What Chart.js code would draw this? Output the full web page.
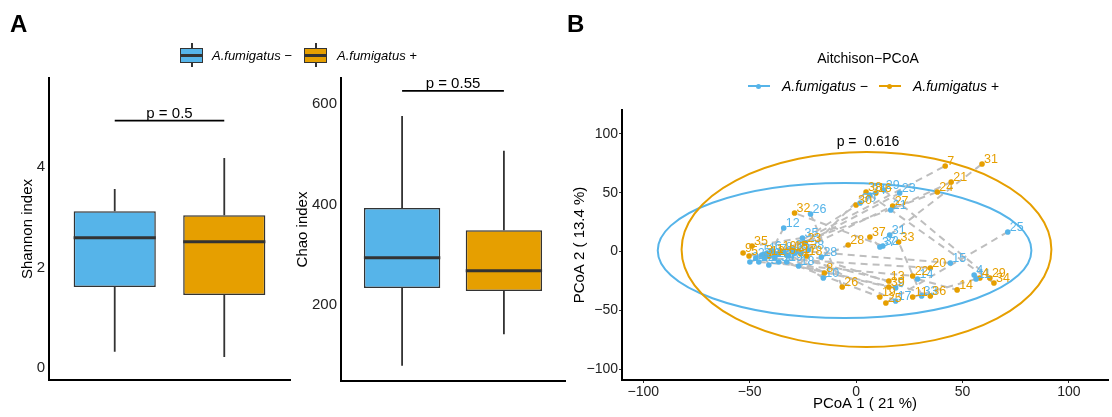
<!DOCTYPE html>
<html>
<head>
<meta charset="utf-8">
<script src="https://cdn.jsdelivr.net/npm/chart.js@4.4.0/dist/chart.umd.min.js"></script>
<style>
  body { margin: 0; background: #fff; font-family: 'Liberation Sans', Arial, sans-serif; }
  #wrap { position: relative; width: 1112px; height: 417px; overflow: hidden; }
  canvas { position: absolute; top: 0; }
  .txt { position: absolute; white-space: nowrap; color: #000; line-height: 1; transform: translateY(-50%); }
  .tag { font-size: 24px; font-weight: bold; }
  .key { font-style: italic; }
  .whisk { position: absolute; width: 1.5px; height: 24px; background: #333; }
  .box { position: absolute; width: 23px; height: 15px; box-sizing: border-box; border: 1.5px solid #333; }
  .box::before { content: ''; position: absolute; left: 0; right: 0; top: 50%; height: 2.5px; margin-top: -1.25px; background: #333; }
  .seg { position: absolute; width: 22px; height: 2px; }
  .dot { position: absolute; width: 5px; height: 5px; border-radius: 50%; }
</style>
</head>
<body>
<div id="wrap">
  <canvas id="shannon" width="300" height="417" style="left:0"></canvas>
  <canvas id="chao" width="280" height="417" style="left:290px"></canvas>
  <canvas id="pcoa" width="542" height="417" style="left:570px"></canvas>

  <div class="txt tag" style="left:10px; top:24px">A</div>
  <div class="txt tag" style="left:567px; top:24px">B</div>

  <!-- legend for the alpha diversity boxes -->
  <div class="whisk" style="left:191px; top:43px"></div>
  <div class="box" style="left:180px; top:48px; background:#56B4E9"></div>
  <div class="txt key" style="left:212px; top:55px; font-size:13px">A.fumigatus &#8722;</div>
  <div class="whisk" style="left:315px; top:43px"></div>
  <div class="box" style="left:304px; top:48px; background:#E69F00"></div>
  <div class="txt key" style="left:337px; top:55px; font-size:13px">A.fumigatus +</div>

  <!-- PCoA title and legend -->
  <div class="txt" style="left:868px; top:58px; font-size:14px; transform:translate(-50%,-50%)">Aitchison&#8722;PCoA</div>
  <div class="seg" style="left:748px; top:85px; background:#56B4E9"></div>
  <div class="dot" style="left:756px; top:83.5px; background:#56B4E9"></div>
  <div class="txt key" style="left:782px; top:86px; font-size:14px">A.fumigatus &#8722;</div>
  <div class="seg" style="left:879px; top:85px; background:#E69F00"></div>
  <div class="dot" style="left:887px; top:83.5px; background:#E69F00"></div>
  <div class="txt key" style="left:913px; top:86px; font-size:14px">A.fumigatus +</div>
</div>

<script>
Chart.defaults.font.family = "'Liberation Sans', Arial, sans-serif";
Chart.defaults.color = '#222';

const groups = ['A.fumigatus \u2212', 'A.fumigatus +'];
const groupColors = ['#56B4E9', '#E69F00'];
const groupPos = [1, 2];

// Shannon index boxes
const shannonMin = [0.32, 0.22];
const shannonQ1 = [1.61, 1.45];
const shannonMedian = [2.59, 2.51];
const shannonQ3 = [3.12, 3.04];
const shannonMax = [3.56, 4.18];
const shannonTicks = [0, 2, 4];
const shannonP = 'p = 0.5';
const shannonPLevel = 4.92;

// Chao index boxes
const chaoMin = [79, 142];
const chaoQ1 = [234, 228];
const chaoMedian = [294, 268];
const chaoQ3 = [393, 349];
const chaoMax = [576, 507];
const chaoTicks = [200, 400, 600];
const chaoP = 'p = 0.55';
const chaoPLevel = 626;

// PCoA coordinates, one entry per sample id, for both groups
const sampleIds = [1, 2, 3, 4, 5, 6, 7, 8, 9, 10, 11, 12, 13, 14, 15, 16, 17, 18, 19, 20,
  21, 22, 23, 24, 25, 26, 27, 28, 29, 30, 31, 32, 33, 34, 35, 36, 37, 38, 39];
const minusX = [-41.9, -47.1, -41.0, 55.5, -44.3, -39.1, -36.8, -34.0, 18.6, -15.4, 56.4, -34.0, -31.7, 28.9, 44.3, -38.2, 18.6, -27.0, -32.6, -42.9,
  16.3, -45.7, 20.5, -49.9, 71.3, -21.4, -29.0, -16.3, 13.0, 1.9, 15.8, 12.6, 30.8, 6.5, -25.2, -29.4, 11.2, -22.4, -36.3];
const minusY = [-1.3, -5.5, -11.5, -20.0, -3.0, 0.4, -2.1, -0.4, -31.0, -22.5, -23.4, 20.0, -3.8, -23.4, -9.8, -5.5, -42.1, -12.3, -8.9, -5.5,
  35.3, -8.9, 49.7, -8.9, 16.6, 31.9, -1.5, -4.7, 52.3, 41.2, 14.0, 4.7, -37.8, 48.0, 11.5, 1.3, 3.8, 1.3, -8.9];
const plusX = [-38.2, -28.4, -43.3, 58.2, -50.3, -32.6, 41.9, -14.9, -53.1, -35.5, 26.6, -41.0, 15.4, 47.5, -30.0, 9.3, -26.0, -23.3, 11.2, 34.9,
  44.7, 26.6, -23.8, 38.2, 14.0, -6.5, 17.2, -3.7, 62.9, 0.0, 59.2, -28.9, 20.0, 64.8, -48.9, 34.9, 6.5, 4.7, 15.4];
const plusY = [-2.1, -0.4, -3.0, -22.5, -3.8, -3.0, 72.7, -18.3, -1.3, 0.5, -38.7, -3.8, -25.1, -32.7, 1.0, 49.7, -2.0, -3.8, -38.7, -14.0,
  59.1, -20.8, 7.2, 50.6, -43.8, -30.2, 38.7, 5.5, -22.5, 39.5, 74.4, 32.7, 8.1, -26.8, 4.7, -37.8, 12.3, 50.6, -30.2];

// 95% ellipses: centre and half axes per group
const ellipseCx = [-5.4, 4.9];
const ellipseCy = [0.85, 1.7];
const ellipseRx = [87.8, 86.9];
const ellipseRy = [57.4, 82.9];
const pcoaP = 'p =  0.616';
const pcoaPAt = [5.6, 93.2];
const pcoaTicks = [-100, -50, 0, 50, 100];

const minus = v => (v < 0 ? '\u2212' + Math.abs(v) : String(v));

function boxPlot(canvasId, s) {
  const parts = {
    id: 'boxParts',
    beforeDatasetsDraw(chart) {
      const {ctx, scales: {y}} = chart;
      const meta = chart.getDatasetMeta(0);
      ctx.save();
      ctx.strokeStyle = '#333';
      ctx.lineWidth = 1.8;
      meta.data.forEach((bar, i) => {
        ctx.beginPath();
        ctx.moveTo(bar.x, y.getPixelForValue(s.max[i]));
        ctx.lineTo(bar.x, y.getPixelForValue(s.q3[i]));
        ctx.moveTo(bar.x, y.getPixelForValue(s.q1[i]));
        ctx.lineTo(bar.x, y.getPixelForValue(s.min[i]));
        ctx.stroke();
      });
      ctx.restore();
    },
    afterDatasetsDraw(chart) {
      const {ctx, scales: {x, y}} = chart;
      const meta = chart.getDatasetMeta(0);
      ctx.save();
      ctx.strokeStyle = '#333';
      ctx.lineWidth = 3;
      meta.data.forEach((bar, i) => {
        const my = y.getPixelForValue(s.median[i]);
        ctx.beginPath();
        ctx.moveTo(bar.x - bar.width / 2, my);
        ctx.lineTo(bar.x + bar.width / 2, my);
        ctx.stroke();
      });
      // significance bracket
      const py = y.getPixelForValue(s.pLevel);
      const x1 = x.getPixelForValue(groupPos[0]);
      const x2 = x.getPixelForValue(groupPos[1]);
      ctx.strokeStyle = '#000';
      ctx.lineWidth = 1.8;
      ctx.beginPath();
      ctx.moveTo(x1, py);
      ctx.lineTo(x2, py);
      ctx.stroke();
      ctx.fillStyle = '#000';
      ctx.font = "15px 'Liberation Sans', Arial, sans-serif";
      ctx.textAlign = 'center';
      ctx.textBaseline = 'alphabetic';
      ctx.fillText(s.pText, (x1 + x2) / 2, py - 3);
      ctx.restore();
    }
  };

  return new Chart(document.getElementById(canvasId), {
    type: 'bar',
    data: {
      datasets: [{
        data: groupPos.map((p, i) => ({x: p, y: [s.q1[i], s.q3[i]]})),
        backgroundColor: groupColors,
        borderColor: '#333',
        borderWidth: 1.5,
        borderSkipped: false,
        categoryPercentage: 1,
        barPercentage: 0.75
      }]
    },
    options: {
      responsive: false,
      animation: false,
      layout: {padding: s.padding},
      plugins: {legend: {display: false}, tooltip: {enabled: false}},
      scales: {
        x: {
          type: 'linear', min: 0.4, max: 2.6, offset: false,
          afterBuildTicks: sc => { sc.ticks = groupPos.map(v => ({value: v})); },
          afterFit: sc => { sc.height = 0; },
          ticks: {display: false},
          grid: {display: false},
          border: {display: true, color: '#000', width: 2}
        },
        y: {
          min: s.yMin, max: s.yMax,
          afterBuildTicks: sc => { sc.ticks = s.ticks.map(v => ({value: v})); },
          afterFit: sc => { sc.width = s.axisWidth; },
          ticks: {padding: 4, font: {size: 15}, color: '#222'},
          grid: {display: false, drawTicks: false},
          border: {display: true, color: '#000', width: 2},
          title: {display: true, text: s.title, color: '#000', font: {size: 15}, padding: {top: s.titlePad, bottom: 0}}
        }
      }
    },
    plugins: [parts]
  });
}

boxPlot('shannon', {
  min: shannonMin, q1: shannonQ1, median: shannonMedian, q3: shannonQ3, max: shannonMax,
  ticks: shannonTicks, yMin: -0.24, yMax: 5.77, title: 'Shannon index',
  pText: shannonP, pLevel: shannonPLevel,
  padding: {left: 0, right: 10, top: 78, bottom: 37}, axisWidth: 49, titlePad: 19
});

boxPlot('chao', {
  min: chaoMin, q1: chaoQ1, median: chaoMedian, q3: chaoQ3, max: chaoMax,
  ticks: chaoTicks, yMin: 48.8, yMax: 651.7, title: 'Chao index',
  pText: chaoP, pLevel: chaoPLevel,
  padding: {left: 0, right: 5, top: 78, bottom: 36}, axisWidth: 51, titlePad: 4
});

// ellipses, paired dashed links and sample labels
const pcoaExtras = {
  id: 'pcoaExtras',
  beforeDatasetsDraw(chart) {
    const {ctx, chartArea, scales: {x, y}} = chart;
    ctx.save();
    ctx.beginPath();
    ctx.rect(chartArea.left, chartArea.top, chartArea.width, chartArea.height);
    ctx.clip();
    ctx.lineWidth = 2;
    groupColors.forEach((c, g) => {
      const cx = x.getPixelForValue(ellipseCx[g]);
      const cy = y.getPixelForValue(ellipseCy[g]);
      const rx = Math.abs(x.getPixelForValue(ellipseCx[g] + ellipseRx[g]) - cx);
      const ry = Math.abs(y.getPixelForValue(ellipseCy[g] + ellipseRy[g]) - cy);
      ctx.strokeStyle = c;
      ctx.beginPath();
      ctx.ellipse(cx, cy, rx, ry, 0, 0, Math.PI * 2);
      ctx.stroke();
    });
    ctx.strokeStyle = '#bebebe';
    ctx.lineWidth = 2;
    ctx.setLineDash([7, 5]);
    sampleIds.forEach((id, i) => {
      ctx.beginPath();
      ctx.moveTo(x.getPixelForValue(minusX[i]), y.getPixelForValue(minusY[i]));
      ctx.lineTo(x.getPixelForValue(plusX[i]), y.getPixelForValue(plusY[i]));
      ctx.stroke();
    });
    ctx.restore();
  },
  afterDatasetsDraw(chart) {
    const {ctx, scales: {x, y}} = chart;
    ctx.save();
    ctx.font = "12.5px 'Liberation Sans', Arial, sans-serif";
    ctx.textAlign = 'left';
    ctx.textBaseline = 'middle';
    chart.data.datasets.forEach((ds, g) => {
      ctx.fillStyle = groupColors[g];
      chart.getDatasetMeta(g).data.forEach((pt, i) => {
        ctx.fillText(String(sampleIds[i]), pt.x + 2, pt.y - 4);
      });
    });
    ctx.fillStyle = '#000';
    ctx.font = "14px 'Liberation Sans', Arial, sans-serif";
    ctx.textAlign = 'center';
    ctx.fillText(pcoaP, x.getPixelForValue(pcoaPAt[0]), y.getPixelForValue(pcoaPAt[1]));
    ctx.restore();
  }
};

new Chart(document.getElementById('pcoa'), {
  type: 'scatter',
  data: {
    datasets: [
      {
        label: groups[0],
        data: sampleIds.map((id, i) => ({x: minusX[i], y: minusY[i]})),
        backgroundColor: groupColors[0],
        pointRadius: 2.8,
        borderWidth: 0
      },
      {
        label: groups[1],
        data: sampleIds.map((id, i) => ({x: plusX[i], y: plusY[i]})),
        backgroundColor: groupColors[1],
        pointRadius: 2.8,
        borderWidth: 0
      }
    ]
  },
  options: {
    responsive: false,
    animation: false,
    layout: {padding: {left: 0, right: 0, top: 110, bottom: 0}},
    plugins: {legend: {display: false}, tooltip: {enabled: false}},
    scales: {
      x: {
        type: 'linear', min: -110, max: 118.4,
        afterBuildTicks: sc => { sc.ticks = pcoaTicks.map(v => ({value: v})); },
        afterFit: sc => { sc.height = 37; },
        ticks: {padding: 1, font: {size: 14}, color: '#222', callback: v => minus(v)},
        grid: {display: true, drawOnChartArea: false, drawTicks: true, tickLength: 3, color: '#333'},
        border: {display: true, color: '#000', width: 2},
        title: {display: true, text: 'PCoA 1 ( 21 %)', color: '#000', font: {size: 15}, padding: {top: 0, bottom: 4}}
      },
      y: {
        min: -109.3, max: 120.3,
        afterBuildTicks: sc => { sc.ticks = pcoaTicks.map(v => ({value: v})); },
        afterFit: sc => { sc.width = 52; },
        ticks: {padding: 1, font: {size: 14}, color: '#222', callback: v => minus(v)},
        grid: {display: true, drawOnChartArea: false, drawTicks: true, tickLength: 3, color: '#333'},
        border: {display: true, color: '#000', width: 2},
        title: {display: true, text: 'PCoA 2 ( 13.4 %)', color: '#000', font: {size: 15}, padding: {top: 1, bottom: 0}}
      }
    }
  },
  plugins: [pcoaExtras]
});
</script>
</body>
</html>
